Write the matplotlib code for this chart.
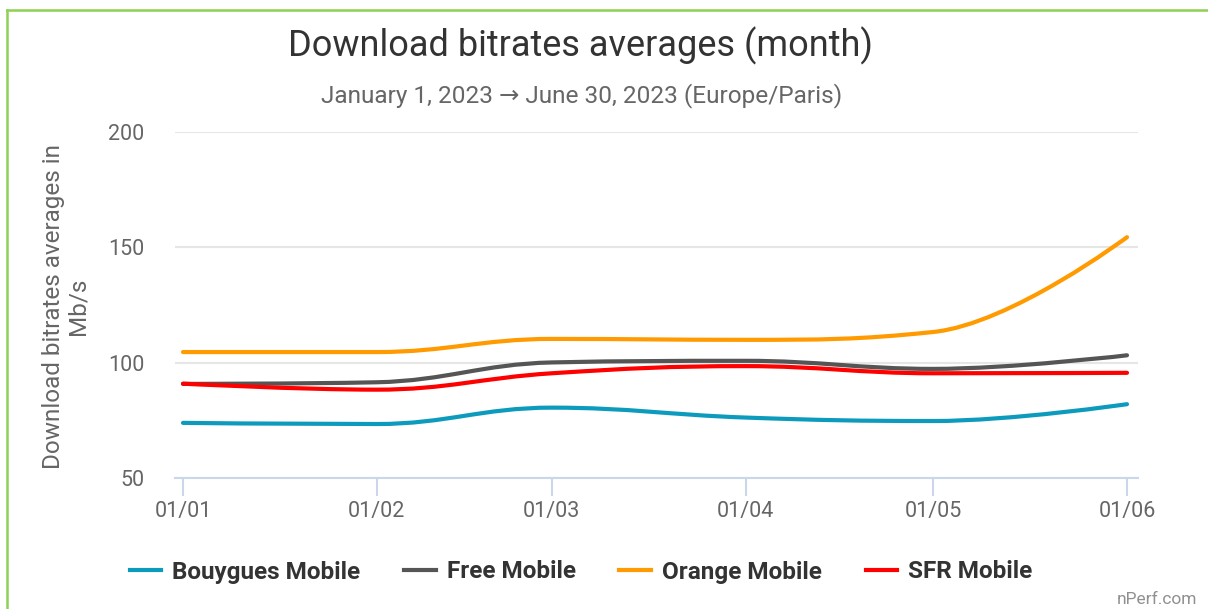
import matplotlib
matplotlib.use("Agg")
import matplotlib.pyplot as plt
from matplotlib.path import Path
from matplotlib.patches import PathPatch
from matplotlib.lines import Line2D

plt.rcParams['font.family'] = ['Roboto', 'DejaVu Sans']

# days since Jan 1, 2023 for the first of each month
days = [0, 31, 59, 90, 120, 151]
tick_labels = ['01/01', '01/02', '01/03', '01/04', '01/05', '01/06']

bouygues = [73.9, 73.4, 80.5, 76.2, 74.7, 82.0]
free = [90.8, 91.5, 100.1, 100.8, 97.3, 103.2]
orange = [104.6, 104.6, 110.3, 109.9, 113.3, 154.4]
sfr = [90.9, 88.3, 95.4, 98.5, 95.4, 95.6]

series = [
    ('Bouygues Mobile', bouygues, '#0d9bbd'),
    ('Free Mobile', free, '#555555'),
    ('Orange Mobile', orange, '#ff9a00'),
    ('SFR Mobile', sfr, '#ff0000'),
]


def spline_path(xs, ys, smoothing=1.5):
    # highcharts-like spline: control points around each point
    n = len(xs)
    left = [(xs[i], ys[i]) for i in range(n)]
    right = [(xs[i], ys[i]) for i in range(n)]
    denom = smoothing + 1
    for i in range(1, n - 1):
        x, y = xs[i], ys[i]
        lx = (smoothing * x + xs[i - 1]) / denom
        ly = (smoothing * y + ys[i - 1]) / denom
        rx = (smoothing * x + xs[i + 1]) / denom
        ry = (smoothing * y + ys[i + 1]) / denom
        corr = ((ry - ly) * (rx - x)) / (rx - lx) + y - ry
        ly += corr
        ry += corr
        if ly > ys[i - 1] and ly > y:
            ly = max(ys[i - 1], y)
            ry = 2 * y - ly
        elif ly < ys[i - 1] and ly < y:
            ly = min(ys[i - 1], y)
            ry = 2 * y - ly
        if ry > ys[i + 1] and ry > y:
            ry = max(ys[i + 1], y)
            ly = 2 * y - ry
        elif ry < ys[i + 1] and ry < y:
            ry = min(ys[i + 1], y)
            ly = 2 * y - ry
        left[i] = (lx, ly)
        right[i] = (rx, ry)
    verts = [(xs[0], ys[0])]
    codes = [Path.MOVETO]
    for i in range(1, n):
        verts += [right[i - 1], left[i], (xs[i], ys[i])]
        codes += [Path.CURVE4] * 3
    return Path(verts, codes)


fig = plt.figure(figsize=(12.08, 6.09), dpi=100)
ax = fig.add_axes([175 / 1208, 1 - 478 / 609, (1138 - 175) / 1208, (478 - 132) / 609])

for name, vals, col in series:
    p = PathPatch(spline_path(days, vals), fill=False, edgecolor=col, lw=3,
                  capstyle='round', joinstyle='round', zorder=3)
    ax.add_patch(p)

ax.set_xlim(-1.28, 152.76)
ax.set_ylim(50, 200)
ax.set_yticks([50, 100, 150, 200])
ax.set_xticks(days)
ax.set_xticklabels(tick_labels)

ax.grid(axis='y', color='#e6e6e6', lw=1.5)
ax.set_axisbelow(True)
for s in ['top', 'right', 'left']:
    ax.spines[s].set_visible(False)
ax.spines['bottom'].set_color('#ccd6eb')
ax.spines['bottom'].set_linewidth(1.5)
ax.spines['bottom'].set_zorder(4)

ax.tick_params(axis='x', colors='#ccd6eb', length=13, width=1.5, pad=3.5,
               labelcolor='#666666', labelsize=15.5)
ax.tick_params(axis='y', length=0, pad=22, labelcolor='#666666', labelsize=15.5)

fig.text(66 / 1208, 0.497, 'Download bitrates averages in\nMb/s', rotation=90,
         ha='center', va='center', color='#666666', fontsize=17.5, linespacing=1.1)

fig.text(581 / 1208, 1 - 46 / 609, 'Download bitrates averages (month)',
         ha='center', va='center', color='#333333', fontsize=26)
fig.text(582 / 1208, 1 - 96 / 609, 'January 1, 2023 \u2192 June 30, 2023 (Europe/Paris)',
         ha='center', va='center', color='#666666', fontsize=17.6)

handles = [Line2D([], [], color=c, lw=3) for _, _, c in series]
leg = fig.legend(handles, [n for n, _, _ in series], loc='center',
                 bbox_to_anchor=(581 / 1208, 1 - 572 / 609), ncol=4, frameon=False,
                 handlelength=1.3, handletextpad=0.45, columnspacing=1.8,
                 prop={'size': 17.5, 'weight': 'bold'})
for t in leg.get_texts():
    t.set_color('#333333')

fig.text(1197 / 1208, 1 - 600 / 609, 'nPerf.com', ha='right', va='center',
         color='#909090', fontsize=12.5)

# green frame, left and top only
fig.add_artist(Line2D([7 / 1208, 7 / 1208], [0, 1 - 10 / 609], color='#8fd155', lw=1.8,
                      transform=fig.transFigure))
fig.add_artist(Line2D([7 / 1208, 1], [1 - 10 / 609, 1 - 10 / 609], color='#8fd155', lw=1.8,
                      transform=fig.transFigure))

fig.savefig('out.png', dpi=100)
